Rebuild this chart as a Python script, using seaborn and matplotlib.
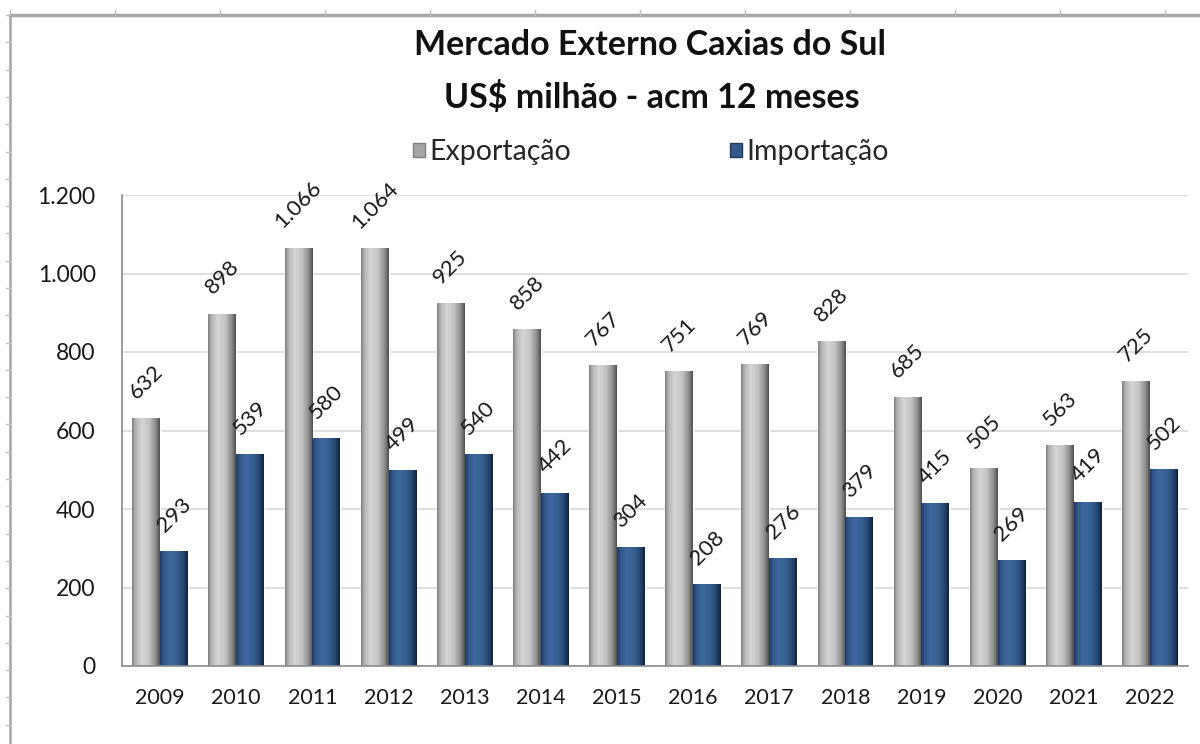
import numpy as np
import pandas as pd
import matplotlib
matplotlib.use('Agg')
import matplotlib.pyplot as plt
import seaborn as sns
from matplotlib.colors import LinearSegmentedColormap
from matplotlib.patches import Patch
from matplotlib.lines import Line2D
from matplotlib.ticker import FixedLocator, FuncFormatter

# data
anos = ['2009', '2010', '2011', '2012', '2013', '2014', '2015',
        '2016', '2017', '2018', '2019', '2020', '2021', '2022']
exportacao = [632, 898, 1066, 1064, 925, 858, 767, 751, 769, 828, 685, 505, 563, 725]
importacao = [293, 539, 580, 499, 540, 442, 304, 208, 276, 379, 415, 269, 419, 502]
series = ['Exportação', 'Importação']
titulo = ['Mercado Externo Caxias do Sul', 'US$ milhão - acm 12 meses']

df = pd.DataFrame({
    'ano': anos * 2,
    'valor': exportacao + importacao,
    'serie': [series[0]] * len(anos) + [series[1]] * len(anos),
})

sns.set_style('white')
plt.rcParams['font.family'] = ['Lato', 'DejaVu Sans']

cor_exp = '#bfbfbf'
cor_imp = '#34598a'

fig = plt.figure(figsize=(12, 7.44), dpi=100)
ax = fig.add_axes([122 / 1200, 1 - 666 / 744, (1188 - 122) / 1200, (666 - 195) / 744])

sns.barplot(data=df, x='ano', y='valor', hue='serie', palette=[cor_exp, cor_imp],
            width=0.73, gap=0, ax=ax, legend=False, saturation=1, zorder=2)

# cylinder-like shading on the bars
grad = np.linspace(0, 1, 256).reshape(1, -1)
cmaps = [
    LinearSegmentedColormap.from_list('g', [(0, '#7d7d7d'), (0.12, '#b3b3b3'), (0.35, '#d6d6d6'),
                                            (0.62, '#c2c2c2'), (0.85, '#8c8c8c'), (1, '#4d4d4d')]),
    LinearSegmentedColormap.from_list('b', [(0, '#1f3a60'), (0.12, '#31568a'), (0.35, '#3e689e'),
                                            (0.62, '#36608f'), (0.85, '#244470'), (1, '#101f36')]),
]
for cont, cmap, vals in zip(ax.containers, cmaps, [exportacao, importacao]):
    for bar, v in zip(cont, vals):
        x0, w, h = bar.get_x(), bar.get_width(), bar.get_height()
        im = ax.imshow(grad, cmap=cmap, extent=[x0, x0 + w, 0, h], aspect='auto', zorder=2.5)
        im.set_clip_path(bar)
        ax.annotate(f'{v:,}'.replace(',', '.'), (x0 + w / 2, h), xytext=(0, 11),
                    textcoords='offset points', rotation=45, ha='center', va='bottom',
                    fontsize=16, color='#1a1a1a')

ax.set_xlim(-0.5, len(anos) - 0.5)
ax.set_ylim(0, 1200)
ax.set_yticks(range(0, 1201, 200))
ax.yaxis.set_major_formatter(FuncFormatter(lambda v, p: f'{int(v):,}'.replace(',', '.')))
ax.xaxis.set_minor_locator(FixedLocator(np.arange(-0.5, len(anos), 1)))
ax.tick_params(axis='x', which='major', length=0, pad=16, labelsize=15.5, labelcolor='#1a1a1a')
ax.tick_params(axis='x', which='minor', length=8, width=1.2, color='#8c8c8c', direction='out')
ax.tick_params(axis='y', length=8, width=1.2, color='#8c8c8c', direction='out', pad=11,
               labelsize=16.5, labelcolor='#1a1a1a')
ax.set_xlabel('')
ax.set_ylabel('')
ax.grid(axis='y', color='#d9d9d9', lw=1.2, zorder=0)
ax.set_axisbelow(True)
sns.despine(ax=ax, top=True, right=True)
for s in ['left', 'bottom']:
    ax.spines[s].set_color('#8c8c8c')
    ax.spines[s].set_linewidth(1.2)

fig.text(650 / 1200, 1 - 45 / 744, titulo[0], ha='center', va='center',
         fontsize=24.5, fontweight='bold', color='#111111')
fig.text(652 / 1200, 1 - 97 / 744, titulo[1], ha='center', va='center',
         fontsize=24.5, fontweight='bold', color='#111111')

handles = [Patch(facecolor='#a6a6a6', edgecolor='#7f7f7f', label=series[0]),
           Patch(facecolor=cor_imp, edgecolor='#1f3a60', label=series[1])]
fig.legend(handles=handles, loc='center', ncol=2, bbox_to_anchor=(651 / 1200, 1 - 152 / 744),
           frameon=False, fontsize=20.5, handlelength=0.4, handleheight=0.4,
           handletextpad=0.15, columnspacing=5.6)

# outer chart frame with its small marks
fig.add_artist(Line2D([10 / 1200, 1], [1 - 15 / 744] * 2, color='#a6a6a6', lw=2.5))
fig.add_artist(Line2D([10 / 1200] * 2, [0, 1 - 15 / 744], color='#a6a6a6', lw=1.8))
for xt in range(10, 1200, 105):
    fig.add_artist(Line2D([xt / 1200] * 2, [1 - 10 / 744, 1 - 15 / 744], color='#bfbfbf', lw=1))
for yt in np.arange(15, 744, 27.3):
    fig.add_artist(Line2D([6 / 1200, 10 / 1200], [1 - yt / 744] * 2, color='#bfbfbf', lw=1))

fig.savefig('out.png', dpi=100)
